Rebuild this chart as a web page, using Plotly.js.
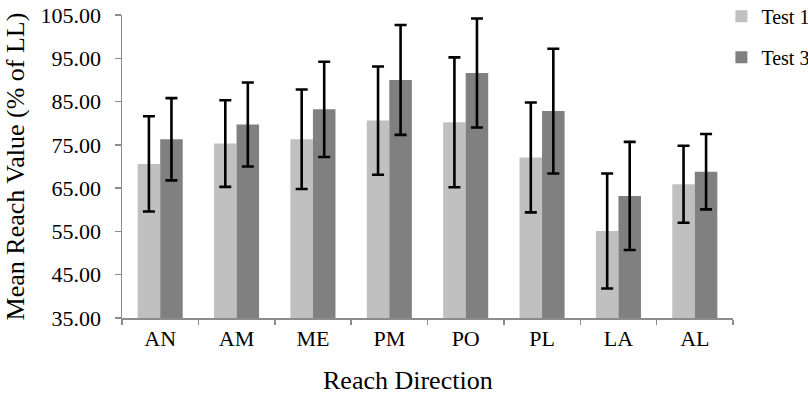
<!DOCTYPE html>
<html>
<head>
<meta charset="utf-8">
<script src="https://cdn.plot.ly/plotly-3.0.1.min.js"></script>
<style>
  html, body { margin: 0; padding: 0; background: #fff; }
  #chart { width: 808px; height: 400px; }
</style>
</head>
<body>
<div id="chart"></div>
<script>
// Reach directions
const directions = ['AN', 'AM', 'ME', 'PM', 'PO', 'PL', 'LA', 'AL'];

// Mean reach (% of leg length) and standard deviations
const test1Mean = [70.6, 75.3, 76.3, 80.6, 80.2, 72.1, 55.1, 65.9];
const test1SD   = [11.0, 10.0, 11.5, 12.5, 15.0, 12.7, 13.3, 8.9];
const test3Mean = [76.3, 79.7, 83.2, 90.0, 91.6, 82.8, 63.2, 68.8];
const test3SD   = [9.5, 9.7, 11.0, 12.7, 12.6, 14.4, 12.5, 8.7];

const serif = 'Liberation Serif, Times New Roman, serif';
const axisGrey = '#8c8c8c';

function series(name, mean, sd, colour, group) {
  return {
    type: 'bar',
    name: name,
    x: directions,
    y: mean,
    legendgroup: group,
    marker: { color: colour, line: { width: 0 } },
    error_y: { type: 'data', array: sd, visible: true, color: '#000', thickness: 2.6, width: 6 }
  };
}

const data = [
  series('Test 1', test1Mean, test1SD, '#c0c0c0', 'g1'),
  series('Test 3', test3Mean, test3SD, '#808080', 'g3')
];

const layout = {
  width: 808,
  height: 400,
  margin: { l: 122, r: 75, t: 14.5, b: 82, autoexpand: false },
  paper_bgcolor: '#fff',
  plot_bgcolor: '#fff',
  font: { family: serif, color: '#000', size: 22 },
  barmode: 'group',
  bargap: 0.41,
  bargroupgap: 0,
  showlegend: true,
  legend: {
    x: 0.981, xanchor: 'left', y: 1.06, yanchor: 'top',
    font: { family: serif, size: 20, color: '#000' },
    traceorder: 'grouped', tracegroupgap: 12,
    itemwidth: 30, bgcolor: 'rgba(0,0,0,0)'
  },
  xaxis: {
    type: 'category',
    showline: true, linecolor: axisGrey, linewidth: 1.5,
    ticks: 'outside', tickson: 'boundaries', ticklen: 5, tickcolor: axisGrey, tickwidth: 1.5,
    tickfont: { family: serif, size: 22, color: '#000' },
    showgrid: false, zeroline: false
  },
  yaxis: {
    range: [35, 105], dtick: 10, tick0: 35, tickformat: '.2f',
    showline: true, linecolor: axisGrey, linewidth: 1.5,
    ticks: 'outside', ticklen: 6, tickcolor: axisGrey, tickwidth: 1.5,
    ticklabelstandoff: 9,
    tickfont: { family: serif, size: 22, color: '#000' },
    showgrid: false, zeroline: false,
    title: { text: 'Mean Reach Value (% of LL)', font: { family: serif, size: 26, color: '#000' }, standoff: 8 }
  },
  annotations: [{
    text: 'Reach Direction', xref: 'paper', yref: 'paper',
    x: 0.468, y: -0.2076, xanchor: 'center', yanchor: 'middle', showarrow: false,
    font: { family: serif, size: 26, color: '#000' }
  }]
};

Plotly.newPlot('chart', data, layout, { displayModeBar: false, staticPlot: true });
</script>
</body>
</html>
